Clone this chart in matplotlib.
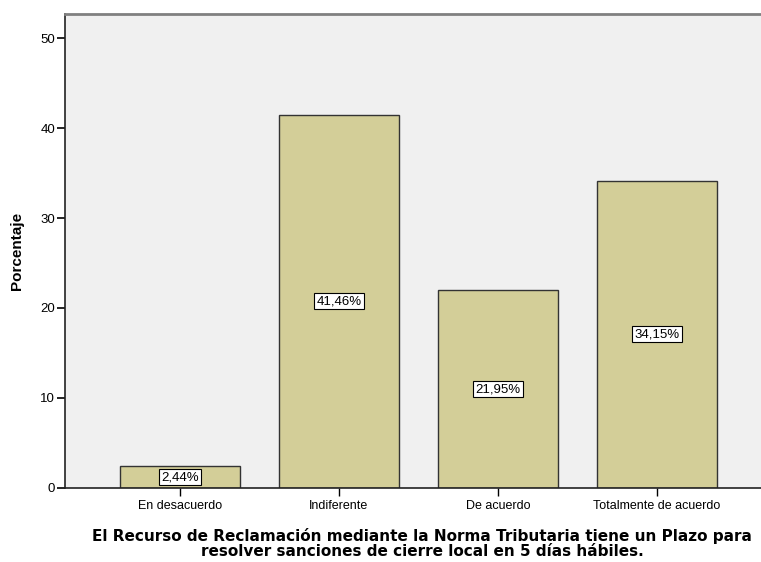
import numpy as np
import matplotlib
matplotlib.use('Agg')
from matplotlib import pyplot as plt

categories = ['En desacuerdo', 'Indiferente', 'De acuerdo', 'Totalmente de acuerdo']
percentages = [2.44, 41.46, 21.95, 34.15]
y_ticks = [0, 10, 20, 30, 40, 50]

plt.rcParams['font.family'] = ['Liberation Sans', 'DejaVu Sans']

fig = plt.figure(figsize=(7.61, 5.62), dpi=100)
ax = fig.add_axes([0.0854, 0.1317, 0.9146, 0.8434])
ax.set_facecolor('#F0F0F0')

x = np.arange(len(categories))
ax.bar(x, percentages, width=0.75, color='#D3CE98', edgecolor='#333333', linewidth=1.0, zorder=2)

for xi, v in zip(x, percentages):
    ax.text(xi, v / 2, f'{v:.2f}%'.replace('.', ','), ha='center', va='center', fontsize=9.5,
            bbox=dict(boxstyle='square,pad=0.15', facecolor='white', edgecolor='black', linewidth=0.8),
            zorder=3)

ax.set_xlim(-0.723, 3.654)
ax.set_ylim(0, 52.67)
ax.set_xticks(x)
ax.set_xticklabels(categories, fontsize=9)
ax.set_yticks(y_ticks)
ax.tick_params(axis='y', labelsize=9.5, length=6, width=1.2, pad=1)
ax.tick_params(axis='x', length=6, width=1.0, pad=3)

for s in ['left', 'bottom']:
    ax.spines[s].set_color('#222222')
    ax.spines[s].set_linewidth(1.2)
ax.spines['top'].set_color('#808080')
ax.spines['top'].set_linewidth(2)
ax.spines['right'].set_visible(False)

ax.set_ylabel('Porcentaje', fontsize=11, fontweight='bold', labelpad=12)
fig.text(0.555, 0.006, 'El Recurso de Reclamación mediante la Norma Tributaria tiene un Plazo para\n'
         'resolver sanciones de cierre local en 5 días hábiles.',
         ha='center', va='bottom', fontsize=11, fontweight='bold', linespacing=0.95,
         family='DejaVu Sans')

plt.savefig('out.png', dpi=100)
